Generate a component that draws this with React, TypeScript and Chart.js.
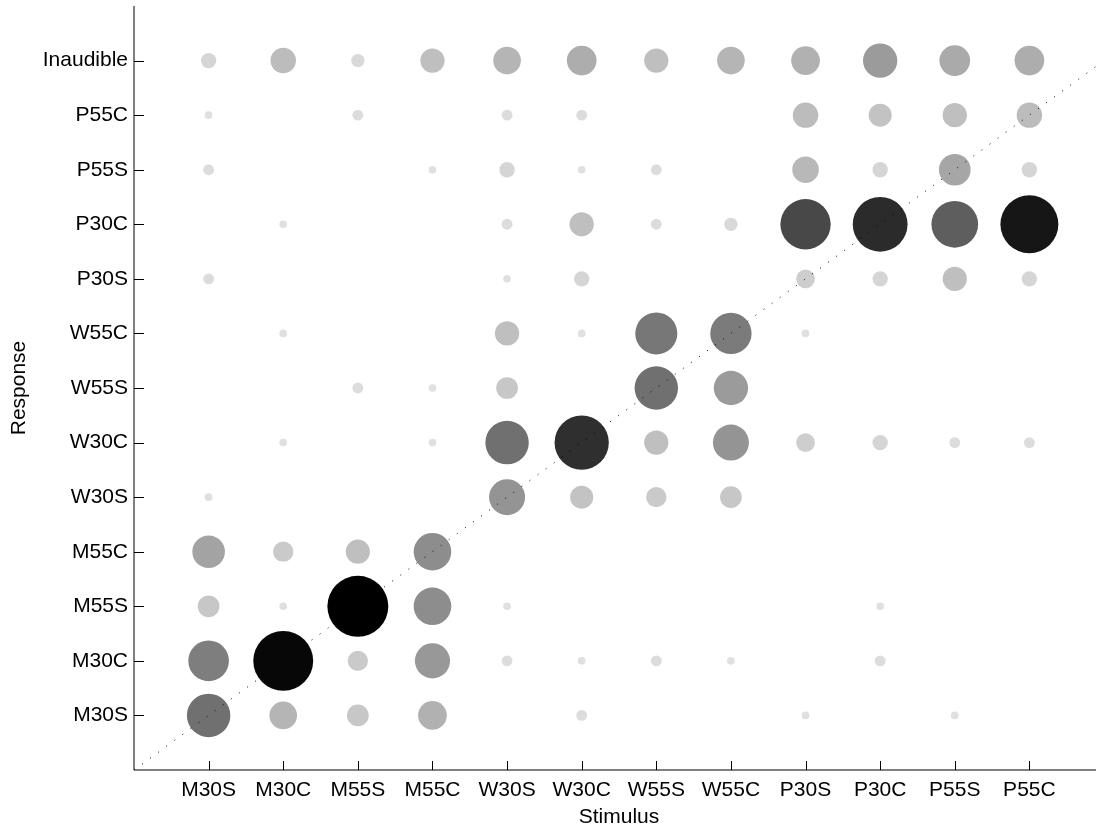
import { useEffect, useRef } from "react";
import { Chart, registerables } from "chart.js";

Chart.register(...registerables);

// Stimulus categories (x axis, left to right)
const stimuli = ["M30S", "M30C", "M55S", "M55C", "W30S", "W30C", "W55S", "W55C", "P30S", "P30C", "P55S", "P55C"];
// Response categories (y axis, bottom to top)
const responses = ["M30S", "M30C", "M55S", "M55C", "W30S", "W30C", "W55S", "W55C", "P30S", "P30C", "P55S", "P55C", "Inaudible"];

// Response counts per response row, one value per stimulus (in stimuli order)
const rowM30S = [32, 13, 8, 14, 0, 2, 0, 0, 1, 0, 1, 0];
const rowM30C = [28, 61, 7, 21, 2, 1, 2, 1, 0, 2, 0, 0];
const rowM55S = [8, 1, 63, 24, 1, 0, 0, 0, 0, 1, 0, 0];
const rowM55C = [18, 7, 10, 24, 0, 0, 0, 0, 0, 0, 0, 0];
const rowW30S = [1, 0, 0, 0, 22, 9, 7, 8, 0, 0, 0, 0];
const rowW30C = [0, 1, 0, 1, 32, 50, 10, 22, 6, 4, 2, 2];
const rowW55S = [0, 0, 2, 1, 8, 0, 32, 20, 0, 0, 0, 0];
const rowW55C = [0, 1, 0, 0, 10, 1, 30, 29, 1, 0, 0, 0];
const rowP30S = [2, 0, 0, 0, 1, 4, 0, 0, 6, 4, 10, 4];
const rowP30C = [0, 1, 0, 0, 2, 10, 2, 3, 43, 51, 37, 57];
const rowP55S = [2, 0, 0, 1, 4, 1, 2, 0, 12, 4, 17, 4];
const rowP55C = [1, 0, 2, 0, 2, 2, 0, 0, 11, 9, 10, 11];
const rowInaudible = [4, 11, 3, 10, 13, 15, 10, 13, 14, 20, 16, 15];

const trialsPerStimulus = 96;

const rows = [rowM30S, rowM30C, rowM55S, rowM55C, rowW30S, rowW30C, rowW55S, rowW55C, rowP30S, rowP30C, rowP55S, rowP55C, rowInaudible];

const FONT = "'Liberation Sans', Arial, Helvetica, sans-serif";

function zeroPad(s: any) {
  s.paddingLeft = 0;
  s.paddingRight = 0;
  s.paddingTop = 0;
  s.paddingBottom = 0;
}

export default function App() {
  const ref = useRef<HTMLCanvasElement | null>(null);

  useEffect(() => {
    if (!ref.current) return;
    let maxCount = 1;
    rows.forEach((r) => r.forEach((v) => { if (v > maxCount) maxCount = v; }));

    const points: any[] = [];
    const colors: string[] = [];
    rows.forEach((row, ri) => {
      row.forEach((v, ci) => {
        if (v <= 0) return;
        const r = Math.sqrt(v / trialsPerStimulus) * 37.6;
        points.push({ x: ci + 1, y: ri + 1, r });
        const g = Math.round((224 * (maxCount - v)) / (maxCount - 1));
        colors.push(`rgb(${g},${g},${g})`);
      });
    });

    const axisPlugin = {
      id: "axisPlugin",
      afterDraw(chart: any) {
        const { ctx, chartArea } = chart;
        const xs = chart.scales.x;
        const ys = chart.scales.y;
        ctx.save();
        ctx.strokeStyle = "#000";
        ctx.lineWidth = 1;
        ctx.beginPath();
        ctx.moveTo(chartArea.left, chartArea.top);
        ctx.lineTo(chartArea.left, chartArea.bottom);
        ctx.lineTo(chartArea.right, chartArea.bottom);
        ctx.stroke();
        ctx.beginPath();
        for (let i = 1; i <= responses.length; i++) {
          const y = Math.round(ys.getPixelForValue(i)) + 0.5;
          ctx.moveTo(chartArea.left, y);
          ctx.lineTo(chartArea.left + 10, y);
        }
        for (let i = 1; i <= stimuli.length; i++) {
          const x = Math.round(xs.getPixelForValue(i)) + 0.5;
          ctx.moveTo(x, chartArea.bottom);
          ctx.lineTo(x, chartArea.bottom - 9);
        }
        ctx.stroke();
        ctx.restore();
      },
    };

    const chart = new Chart(ref.current, {
      type: "bubble",
      data: {
        datasets: [
          {
            type: "line",
            data: [{ x: 0, y: 0 }, { x: 13, y: 13 }],
            borderColor: "#000",
            borderWidth: 1,
            borderDash: [1, 9],
            pointRadius: 0,
            fill: false,
            order: 0,
          } as any,
          {
            type: "bubble",
            data: points,
            backgroundColor: colors,
            borderWidth: 0,
            order: 1,
          } as any,
        ],
      },
      options: {
        responsive: false,
        animation: false,
        devicePixelRatio: 1,
        layout: { autoPadding: false, padding: { top: 6, left: 0, right: 0, bottom: 0 } },
        plugins: { legend: { display: false }, tooltip: { enabled: false } },
        scales: {
          x: {
            type: "linear",
            min: 0,
            max: 13,
            afterFit: (s: any) => { s.height = 59; zeroPad(s); },
            afterBuildTicks: (s: any) => { s.ticks = stimuli.map((_, i) => ({ value: i + 1 })); },
            grid: { display: false, drawTicks: false },
            border: { display: false },
            ticks: {
              autoSkip: false,
              maxRotation: 0,
              padding: 8,
              color: "#000",
              font: { family: FONT, size: 21 },
              callback: (v: any) => stimuli[Number(v) - 1] ?? "",
            },
            title: {
              display: true,
              text: "Stimulus",
              color: "#000",
              font: { family: FONT, size: 21 },
              padding: { top: 0, bottom: -1 },
            },
          },
          y: {
            type: "linear",
            min: 0,
            max: 14,
            afterFit: (s: any) => { s.width = 134; zeroPad(s); },
            afterBuildTicks: (s: any) => { s.ticks = responses.map((_, i) => ({ value: i + 1 })); },
            grid: { display: false, drawTicks: false },
            border: { display: false },
            ticks: {
              autoSkip: false,
              padding: 6,
              color: "#000",
              font: { family: FONT, size: 21 },
              callback: (v: any) => responses[Number(v) - 1] ?? "",
            },
            title: {
              display: true,
              text: "Response",
              color: "#000",
              font: { family: FONT, size: 21 },
              padding: { top: 7, bottom: 0 },
            },
          },
        },
      },
      plugins: [axisPlugin],
    });
    return () => chart.destroy();
  }, []);

  return (
    <div style={{ position: "absolute", left: 0, top: 0, width: 1096, height: 829, overflow: "hidden", background: "#fff" }}>
      <canvas ref={ref} width={1104} height={829} style={{ display: "block" }} />
    </div>
  );
}
